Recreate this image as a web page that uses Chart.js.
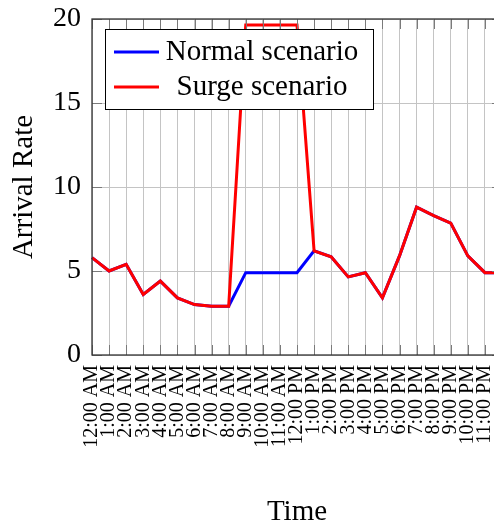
<!DOCTYPE html>
<html>
<head>
<meta charset="utf-8">
<script src="https://cdn.jsdelivr.net/npm/chart.js@4"></script>
<style>
  html, body { margin: 0; padding: 0; background: #fff; overflow: hidden; }
  #wrap { width: 502px; height: 527px; }
</style>
</head>
<body>
<div id="wrap"><canvas id="chart" width="502" height="527"></canvas></div>
<script>
// Hours on the x axis (the extra last point runs past the visible edge)
const hours = [
  "12:00 AM", "1:00 AM", "2:00 AM", "3:00 AM", "4:00 AM", "5:00 AM",
  "6:00 AM", "7:00 AM", "8:00 AM", "9:00 AM", "10:00 AM", "11:00 AM",
  "12:00 PM", "1:00 PM", "2:00 PM", "3:00 PM", "4:00 PM", "5:00 PM",
  "6:00 PM", "7:00 PM", "8:00 PM", "9:00 PM", "10:00 PM", "11:00 PM"
];
const normal = [5.8, 5.0, 5.4, 3.6, 4.4, 3.4, 3.0, 2.9, 2.9, 4.9, 4.9, 4.9,
  4.9, 6.2, 5.85, 4.65, 4.9, 3.4, 5.9, 8.8, 8.3, 7.85, 5.9, 4.9, 4.9];
const surge = [5.8, 5.0, 5.4, 3.6, 4.4, 3.4, 3.0, 2.9, 2.9, 19.65, 19.65, 19.65,
  19.65, 6.2, 5.85, 4.65, 4.9, 3.4, 5.9, 8.8, 8.3, 7.85, 5.9, 4.9, 4.9];
const yTicks = [0, 5, 10, 15, 20];

const serif = "'Liberation Serif', 'Times New Roman', serif";

// box around the plot, inner tick marks and the legend
const framePlugin = {
  id: "frame",
  afterDraw(chart) {
    const ctx = chart.ctx;
    const a = chart.chartArea;
    const xs = chart.scales.x, ys = chart.scales.y;
    ctx.save();
    // inner ticks
    ctx.strokeStyle = "#7a7a7a";
    ctx.lineWidth = 1;
    ctx.beginPath();
    for (let i = 0; i < xs.ticks.length; i++) {
      const x = Math.round(xs.getPixelForTick(i)) + 0.5;
      ctx.moveTo(x, a.bottom); ctx.lineTo(x, a.bottom - 10);
      ctx.moveTo(x, a.top); ctx.lineTo(x, a.top + 10);
    }
    for (let i = 0; i < ys.ticks.length; i++) {
      const y = Math.round(ys.getPixelForTick(i)) + 0.5;
      ctx.moveTo(a.left, y); ctx.lineTo(a.left + 10, y);
      ctx.moveTo(a.right, y); ctx.lineTo(a.right - 10, y);
    }
    ctx.stroke();
    // frame
    ctx.strokeStyle = "#333";
    ctx.lineWidth = 1.3;
    ctx.strokeRect(a.left, a.top, a.right - a.left, a.bottom - a.top);

    // legend
    const lx = a.left + 13, ly = a.top + 10, lw = 268, lh = 80;
    ctx.fillStyle = "#fff";
    ctx.fillRect(lx, ly, lw, lh);
    ctx.strokeStyle = "#000";
    ctx.lineWidth = 1;
    ctx.strokeRect(lx + 0.5, ly + 0.5, lw, lh);
    ctx.font = "29px " + serif;
    ctx.textAlign = "center";
    ctx.textBaseline = "alphabetic";
    chart.data.datasets.forEach((ds, i) => {
      const cy = ly + 23 + i * 35;
      ctx.strokeStyle = ds.borderColor;
      ctx.lineWidth = 3;
      ctx.beginPath();
      ctx.moveTo(lx + 9, cy); ctx.lineTo(lx + 54, cy);
      ctx.stroke();
      ctx.fillStyle = "#000";
      ctx.fillText(ds.label, lx + 157, cy + 8);
    });
    ctx.restore();
  }
};

new Chart(document.getElementById("chart"), {
  type: "line",
  data: {
    labels: hours.concat(""),
    datasets: [
      {
        label: "Normal scenario",
        data: normal,
        borderColor: "#0000ff",
        borderWidth: 3,
        pointRadius: 0,
        tension: 0,
        order: 1
      },
      {
        label: "Surge scenario",
        data: surge,
        borderColor: "#ff0000",
        borderWidth: 3,
        pointRadius: 0,
        tension: 0,
        order: 0
      }
    ]
  },
  options: {
    responsive: false,
    animation: false,
    layout: { padding: { top: 19, left: 0, right: 0, bottom: 0 } },
    plugins: { legend: { display: false }, tooltip: { enabled: false } },
    scales: {
      x: {
        offset: false,
        grid: { color: "#c4c4c4", drawTicks: false },
        border: { display: false },
        ticks: {
          autoSkip: false,
          minRotation: 90,
          maxRotation: 90,
          padding: 10,
          color: "#000",
          font: { family: serif, size: 20 }
        },
        title: {
          display: true,
          text: "Time",
          color: "#000",
          font: { family: serif, size: 29, lineHeight: 1 },
          padding: { top: 0, bottom: 0 }
        },
        afterFit(scale) {
          scale.height = 172;
          scale.paddingLeft = 0;
          scale.paddingRight = 0;
        }
      },
      y: {
        min: 0,
        max: 20,
        grid: { color: "#c4c4c4", drawTicks: false },
        border: { display: false },
        afterBuildTicks(scale) {
          scale.ticks = yTicks.map(v => ({ value: v }));
        },
        ticks: {
          padding: 11,
          color: "#000",
          font: { family: serif, size: 28 }
        },
        title: {
          display: true,
          text: "Arrival Rate",
          color: "#000",
          font: { family: serif, size: 29, lineHeight: 1 },
          padding: { top: 9.5, bottom: 0 }
        },
        afterFit(scale) {
          scale.width = 92;
          scale.paddingTop = 0;
          scale.paddingBottom = 0;
        }
      }
    }
  },
  plugins: [framePlugin]
});
</script>
</body>
</html>
